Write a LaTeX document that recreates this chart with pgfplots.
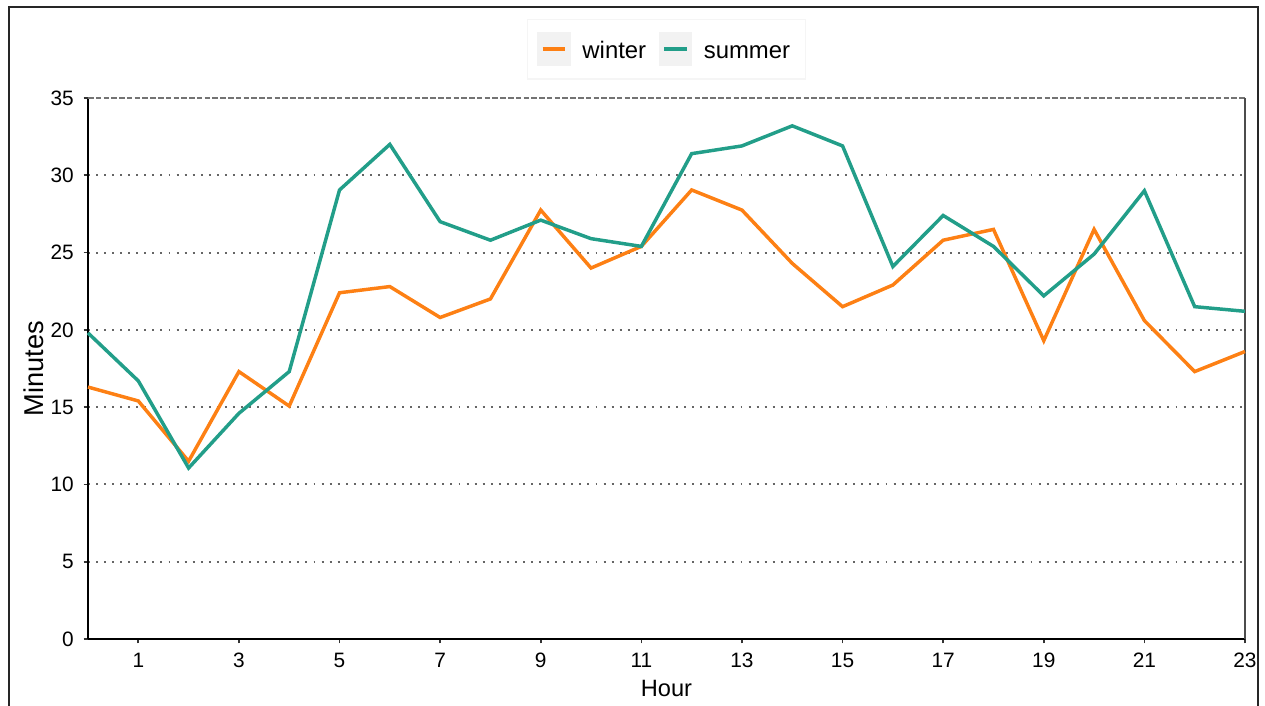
\documentclass[border=0pt]{standalone}
\usepackage{pgfplots}
\pgfplotsset{compat=1.18}
\usepackage{fontspec}
\setmainfont{Liberation Sans}
\definecolor{winterc}{RGB}{253,128,20}
\definecolor{summerc}{RGB}{34,158,137}
\definecolor{keybg}{RGB}{242,242,242}
\begin{document}
\begin{tikzpicture}
\useasboundingbox (-31.68pt,-24.12pt) rectangle (423.72pt,230.04pt);
\draw[line width=0.5pt,black!85] (-28.44pt,-24.2pt) -- (-28.44pt,227.52pt) -- (421.2pt,227.52pt) -- (421.2pt,-24.2pt);
\begin{axis}[
  scale only axis,
  width=416.52pt, height=194.76pt,
  xmin=0, xmax=23, ymin=0, ymax=35,
  xtick={1,3,...,23},
  ytick={0,5,...,30},
  extra y ticks={35},
  extra y tick style={grid=none},
  axis x line*=bottom, axis y line*=left,
  axis line style={line width=0.7pt, black},
  x axis line style={-}, y axis line style={-},
  tick style={line width=0.6pt, black!80},
  tick align=outside,
  major tick length=1.6pt,
  ticklabel style={font=\fontsize{7.5}{8}\selectfont, text=black},
  /pgf/number format/assume math mode=true,
  xlabel={Hour}, ylabel={Minutes},
  xlabel style={font=\fontsize{8.5}{9}\selectfont, yshift=2.5pt},
  ylabel style={font=\fontsize{9.8}{10}\selectfont, yshift=-7.7pt},
  ymajorgrids,
  grid style={line width=0.7pt, black!60, dash pattern=on 0.7pt off 2.2pt},
  clip=false,
  legend style={at={(0.5,1)}, anchor=center, yshift=17.6pt, legend columns=2,
    draw=black!4, fill=white, font=\fontsize{8.6}{9}\selectfont,
    inner xsep=3.5pt, inner ysep=4pt,
    nodes={text height=1.55ex, text depth=0.25ex},
    /tikz/every odd column/.append style={column sep=2.2pt},
    /tikz/every even column/.append style={column sep=2.5pt}},
  legend image code/.code={
    \fill[keybg] (0pt,-5.4pt) rectangle (10.8pt,5.4pt);
    \draw[#1, line width=1.3pt] (1.3pt,0pt) -- (9.5pt,0pt);
  },
]
\draw[black!55, line width=0.6pt, dash pattern=on 2pt off 0.8pt] (axis cs:0,35) -- (axis cs:23,35);
\draw[black!70, line width=0.7pt] (axis cs:23,0) -- (axis cs:23,35);
\addplot[winterc, line width=1.25pt] coordinates {
(0,16.3) (1,15.4) (2,11.5) (3,17.3) (4,15.07) (5,22.4) (6,22.8) (7,20.8)
(8,22.0) (9,27.75) (10,24.0) (11,25.4) (12,29.05) (13,27.75) (14,24.3) (15,21.5)
(16,22.9) (17,25.8) (18,26.5) (19,19.3) (20,26.5) (21,20.6) (22,17.3) (23,18.6)};
\addlegendentry{winter}
\addplot[summerc, line width=1.25pt] coordinates {
(0,19.8) (1,16.7) (2,11.06) (3,14.6) (4,17.3) (5,29.05) (6,32.0) (7,27.0)
(8,25.8) (9,27.1) (10,25.9) (11,25.4) (12,31.4) (13,31.9) (14,33.2) (15,31.9)
(16,24.1) (17,27.4) (18,25.4) (19,22.2) (20,24.9) (21,29.0) (22,21.5) (23,21.2)};
\addlegendentry{summer}
\end{axis}
\end{tikzpicture}
\end{document}
